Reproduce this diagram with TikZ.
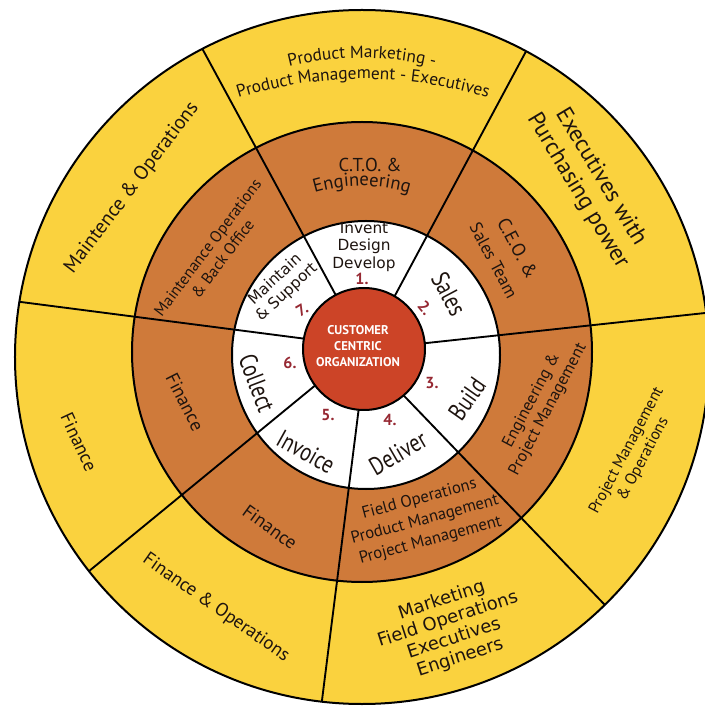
\documentclass[tikz,border=0pt]{standalone}
\usepackage{fontspec}
\setmainfont{PT Sans}
\newfontfamily\widefont{DejaVu Sans}
\usetikzlibrary{decorations.text}
\definecolor{ringyellow}{RGB}{250,210,62}
\definecolor{ringbrown}{RGB}{207,122,58}
\definecolor{hubred}{RGB}{204,68,39}
\definecolor{stepred}{RGB}{150,40,50}
\definecolor{inkdark}{RGB}{30,20,15}
\newcommand\pmfont{\fontsize{13}{15}\selectfont}
\newcommand\engfont{\fontsize{14}{16}\selectfont}

\begin{document}
\begin{tikzpicture}[x=0.75pt,y=0.75pt,
  ring/.style={draw=black,line width=1.5pt},
  divider/.style={draw=black,line width=1.4pt},
  lbl/.style={inner sep=0.75pt,align=center,text=inkdark},
  stepword/.style={lbl,font=\fontsize{19}{21}\selectfont,xscale=0.8},
  stepnum/.style={inner sep=0.75pt,text=stepred,font=\bfseries\fontsize{12}{14}\selectfont},
  widetxt/.style={lbl,font=\widefont\fontsize{11.5}{13}\selectfont},
  hubtxt/.style={inner sep=0.75pt,align=center,text=white,font=\bfseries\fontsize{9.5}{12}\selectfont}]
\useasboundingbox (-363,-352) rectangle (342,354);

% rings
\draw[ring,fill=ringyellow] (-1,-3) circle[radius=347];
\draw[ring,fill=ringbrown] (-1,2) circle[radius=230];
\draw[ring,fill=white] (3,-1) circle[radius=134];
\begin{scope}
\clip (-1,-3) circle[radius=347];
\foreach \xa/\ya/\xb/\yb in {-17/40/-173/328, 21/38/175/325, 36/8/370/44, 22/-22/264/-274,
    -1/-29/-45/-378, -29/-16/-297/-236, -33/12/-373/56}
  \draw[divider] (\xa,\ya) -- (\xb,\yb);
\end{scope}
\draw[ring,fill=hubred] (1,5) circle[radius=61];

% outer ring
\path[decorate,decoration={text along path,text align=center,text color=inkdark,
    text={|\pmfont|Product Marketing -}}]
  (-1,-3) ++(118:299) arc[start angle=118,end angle=62,radius=299];
\path[decorate,decoration={text along path,text align=center,text color=inkdark,
    text={|\pmfont|Product Management - Executives}}]
  (0,-145) ++(110:420) arc[start angle=110,end angle=70,radius=420];
\node[lbl,rotate=53,font=\fontsize{15}{17}\selectfont] (maintops) at (-231,166) {Maintence \& Operations};
\node[lbl,rotate=-59,font=\fontsize{17.5}{20}\selectfont] (execs) at (226,170) {Executives with\\Purchasing power};
\node[lbl,rotate=62,font=\fontsize{12}{14}\selectfont] (projops) at (272,-101) {Project Management\\\& Operations};
\node[lbl,rotate=18,font=\widefont\fontsize{13.5}{15}\selectfont] (mktg) at (88,-275) {Marketing\\Field Operations\\Executives\\Engineers};
\node[lbl,rotate=-35,font=\fontsize{14}{16}\selectfont] (finops) at (-147,-254) {Finance \& Operations};
\node[lbl,rotate=-65,font=\fontsize{14}{16}\selectfont] (finout) at (-284,-88) {Finance};

% middle ring
\node[lbl,font=\engfont] (cto) at (7,189) {C.T.O. \&};
\path[decorate,decoration={text along path,text align=center,text color=inkdark,
    text={|\engfont|Engineering}}]
  (-1,2) ++(125:166) arc[start angle=125,end angle=55,radius=166];
\node[lbl,rotate=-62,font=\fontsize{13}{16}\selectfont] (ceo) at (143,100) {{\fontsize{14}{16}\selectfont C.E.O. \&}\\[4pt]Sales Team};
\node[lbl,rotate=62,font=\fontsize{12.5}{14}\selectfont] (engpm) at (177,-51) {Engineering \&\\Project Management};
\node[lbl,rotate=15,font=\fontsize{12.5}{16}\selectfont] (fieldops) at (62,-166) {Field Operations\\Product Management\\Project Management};
\node[lbl,rotate=-36,font=\fontsize{14}{16}\selectfont] (finlow) at (-93,-173) {Finance};
\node[lbl,rotate=-63,font=\fontsize{14}{16}\selectfont] (finleft) at (-178,-48) {Finance};
\node[lbl,rotate=53,font=\fontsize{12}{14}\selectfont] (backoff) at (-148,101) {Maintenance Operations\\\& Back Office};

% inner ring
\node[widetxt] (invent) at (1,107) {Invent\\Design\\Develop};
\node[rotate=-62,stepword] (sales) at (86,60) {Sales};
\node[rotate=55,stepword] (build) at (104,-45) {Build};
\node[rotate=30,stepword] (deliver) at (35,-99) {Deliver};
\node[rotate=-29,stepword] (invoice) at (-57,-98) {Invoice};
\node[rotate=-69,stepword] (collect) at (-106,-29) {Collect};
\node[widetxt,rotate=43] (maintain) at (-82,68) {Maintain\\\& Support};
\node[stepnum] (n1) at (-1,75) {1.};
\node[stepnum,rotate=-50] (n2) at (62,46) {2.};
\node[stepnum] (n3) at (69,-29) {3.};
\node[stepnum] (n4) at (27,-66) {4.};
\node[stepnum] (n5) at (-35,-61) {5.};
\node[stepnum] (n6) at (-73,-9) {6.};
\node[stepnum,rotate=30] (n7) at (-61,44) {7.};

% hub
\node[hubtxt] (hub) at (-5,8) {CUSTOMER\\CENTRIC\\ORGANIZATION};
\end{tikzpicture}
\end{document}
